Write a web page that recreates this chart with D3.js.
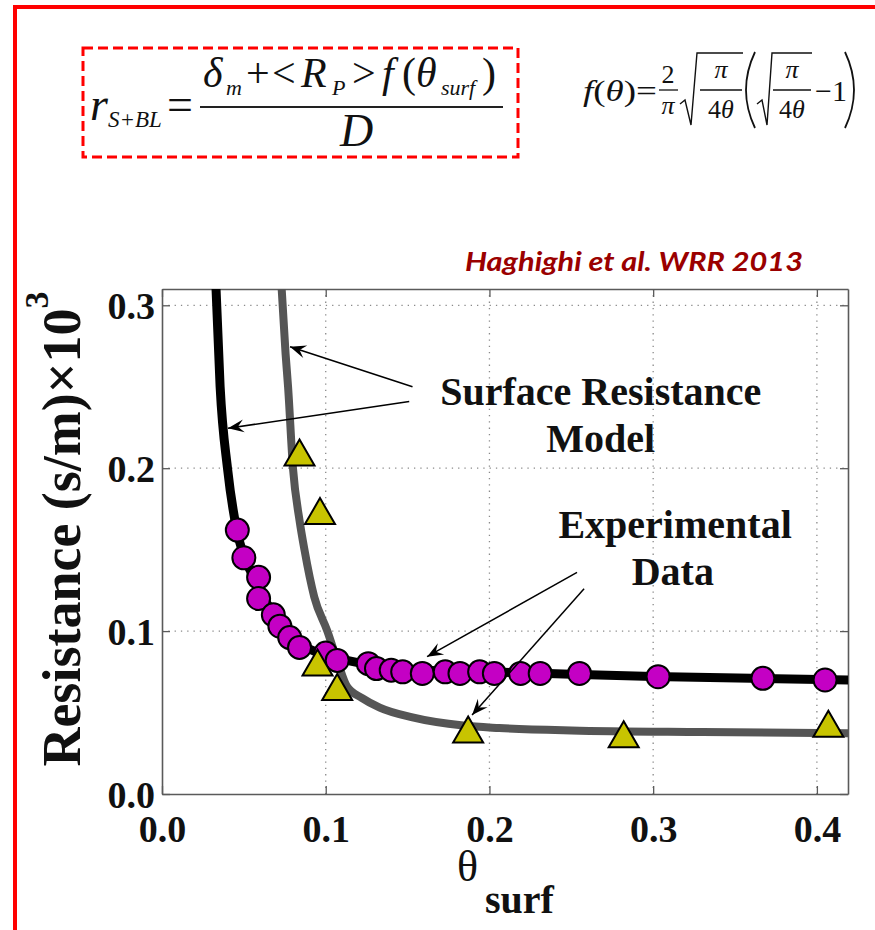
<!DOCTYPE html>
<html>
<head>
<meta charset="utf-8">
<script src="https://cdn.jsdelivr.net/npm/d3@7"></script>
<style>
  body { margin: 0; background: #fff; }
  svg { display: block; }
</style>
</head>
<body>
<div id="chart"></div>
<script>
// axis ticks
var thetaTicks = [0, 0.1, 0.2, 0.3, 0.4];
var resTicks = [0, 0.1, 0.2, 0.3];

// experimental data, circles (magenta)
var circTheta = [0.046, 0.050, 0.059, 0.059, 0.068, 0.072, 0.078, 0.084, 0.100, 0.107,
                 0.126, 0.131, 0.140, 0.147, 0.159, 0.173, 0.182, 0.194, 0.203, 0.219,
                 0.231, 0.255, 0.303, 0.367, 0.405];
var circRes   = [0.162, 0.145, 0.133, 0.120, 0.110, 0.103, 0.096, 0.090, 0.0865, 0.082,
                 0.080, 0.077, 0.076, 0.075, 0.074, 0.075, 0.074, 0.075, 0.074, 0.074,
                 0.074, 0.074, 0.072, 0.071, 0.070];

// experimental data, triangles (yellow)
var triTheta = [0.084, 0.0965, 0.095, 0.107, 0.187, 0.282, 0.407];
var triRes   = [0.207, 0.171, 0.078, 0.063, 0.037, 0.034, 0.0405];

// model curves
var blackTheta = [0.0328, 0.0355, 0.040, 0.0455, 0.050, 0.055, 0.060, 0.066, 0.072, 0.080,
                  0.090, 0.100, 0.113, 0.135, 0.160, 0.200, 0.250, 0.300, 0.360, 0.420];
var blackRes   = [0.315, 0.250, 0.200, 0.163, 0.146, 0.135, 0.124, 0.114, 0.104, 0.095,
                  0.089, 0.085, 0.082, 0.078, 0.076, 0.075, 0.0735, 0.0722, 0.071, 0.070];
var grayTheta  = [0.0728, 0.0755, 0.077, 0.080, 0.084, 0.087, 0.093, 0.101, 0.107, 0.113,
                  0.122, 0.133, 0.153, 0.184, 0.206, 0.250, 0.330, 0.420];
var grayRes    = [0.315, 0.270, 0.250, 0.200, 0.168, 0.150, 0.121, 0.100, 0.082, 0.066,
                  0.059, 0.053, 0.047, 0.042, 0.0405, 0.039, 0.038, 0.0373];

// annotations (data coordinates)
var noteText  = ["Surface Resistance", "Model", "Experimental", "Data"];
var noteTheta = [0.268, 0.268, 0.3134, 0.312];
var noteRes   = [0.2387, 0.2098, 0.157, 0.128];
var arrowFrom = [[0.153, 0.250], [0.151, 0.241], [0.2535, 0.136], [0.2578, 0.126]];
var arrowTo   = [[0.0782, 0.2745], [0.0403, 0.2245], [0.1619, 0.0843], [0.1894, 0.0485]];

var W = 875, H = 930;
var m = {l: 162, r: 848, t: 289, b: 794};
var serif = "'Liberation Serif', 'Times New Roman', serif";

var svg = d3.select("#chart").append("svg")
    .attr("width", W)
    .attr("height", H);

var defs = svg.append("defs");
defs.append("clipPath").attr("id", "plotclip")
  .append("rect")
    .attr("x", m.l).attr("y", m.t)
    .attr("width", m.r - m.l).attr("height", m.b - m.t);

defs.append("marker")
    .attr("id", "ah")
    .attr("viewBox", "-18 -8 20 16")
    .attr("refX", 0).attr("refY", 0)
    .attr("markerWidth", 20).attr("markerHeight", 16)
    .attr("markerUnits", "userSpaceOnUse")
    .attr("orient", "auto")
  .append("path")
    .attr("d", "M0,0 L-16,-6.5 L-10,0 L-16,6.5 Z")
    .attr("fill", "#000");

// red slide frame
svg.append("path")
    .attr("d", "M15,930 L15,7 L875,7")
    .attr("fill", "none")
    .attr("stroke", "#ff0000")
    .attr("stroke-width", 4);

// ---------- equations ----------
svg.append("rect")
    .attr("x", 83).attr("y", 48)
    .attr("width", 435).attr("height", 109)
    .attr("fill", "none")
    .attr("stroke", "#ff0000")
    .attr("stroke-width", 3)
    .attr("stroke-dasharray", "10,5");

var eq = svg.append("g")
    .attr("font-family", serif)
    .attr("fill", "#111");

var lhs = eq.append("text").attr("x", 90).attr("y", 120).attr("font-size", 46);
lhs.append("tspan").attr("font-style", "italic").text("r");
lhs.append("tspan").attr("font-style", "italic").attr("font-size", 23).attr("dy", 7).text("S+BL");
eq.append("text").attr("x", 167).attr("y", 120).attr("font-size", 46).text("=");

// numerator pieces: [text, x, italic, sub]
var numParts = [
  ["δ", 203, true, false], ["m", 226, true, true], ["+", 246, false, false],
  ["<", 272, false, false], ["R", 301, true, false], ["P", 332, true, true],
  [">", 352, false, false], ["f", 382, true, false], ["(", 402, false, false],
  ["θ", 416, true, false], ["surf", 441, true, true], [")", 482, false, false]
];
eq.selectAll(".num").data(numParts).enter().append("text")
    .attr("class", "num")
    .attr("x", function(d) { return d[1]; })
    .attr("y", function(d) { return d[3] ? 95 : 87; })
    .attr("font-size", function(d) { return d[3] ? 22 : 42; })
    .attr("font-style", function(d) { return d[2] ? "italic" : "normal"; })
    .text(function(d) { return d[0]; });

eq.append("line").attr("x1", 200).attr("x2", 503).attr("y1", 107).attr("y2", 107)
    .attr("stroke", "#222").attr("stroke-width", 1.8);
eq.append("text").attr("x", 340).attr("y", 146).attr("font-size", 46)
    .attr("font-style", "italic").text("D");

// f(theta) definition
var fq = svg.append("g")
    .attr("font-family", serif)
    .attr("fill", "#111");
var ft = fq.append("text").attr("x", 583).attr("y", 101).attr("font-size", 30)
    .attr("textLength", 74).attr("lengthAdjust", "spacingAndGlyphs");
ft.append("tspan").attr("font-style", "italic").text("f");
ft.append("tspan").text("(");
ft.append("tspan").attr("font-style", "italic").text("θ");
ft.append("tspan").text(")=");

function frac(cx, top, bot, x1, x2) {
  var t = fq.append("text").attr("x", cx).attr("y", 83).attr("font-size", 26)
      .attr("text-anchor", "middle");
  top(t);
  fq.append("line").attr("x1", x1).attr("x2", x2).attr("y1", 90).attr("y2", 90)
      .attr("stroke", "#111").attr("stroke-width", 1.3);
  var b = fq.append("text").attr("x", cx).attr("y", 114).attr("font-size", 26)
      .attr("text-anchor", "middle");
  bot(b);
}
frac(668, function(t) { t.text("2"); }, function(b) { b.attr("font-style", "italic").text("π"); }, 659, 678);
function piOver4(cx, x1, x2) {
  frac(cx, function(t) { t.attr("y", 78).attr("font-style", "italic").text("π"); },
    function(b) {
      b.attr("y", 118);
      b.append("tspan").text("4");
      b.append("tspan").attr("font-style", "italic").text("θ");
    }, x1, x2);
}
piOver4(721, 700, 742);
piOver4(792, 773, 811);
fq.append("path").attr("d", "M680,104 L685,100 L691,125 L697,53 L743,53")
    .attr("fill", "none").attr("stroke", "#111").attr("stroke-width", 1.4);
fq.append("path").attr("d", "M757,104 L762,100 L767,125 L772,53 L812,53")
    .attr("fill", "none").attr("stroke", "#111").attr("stroke-width", 1.4);
fq.append("path").attr("d", "M755,52 Q737,90 755,128")
    .attr("fill", "none").attr("stroke", "#111").attr("stroke-width", 1.8);
fq.append("path").attr("d", "M845,52 Q863,90 845,128")
    .attr("fill", "none").attr("stroke", "#111").attr("stroke-width", 1.8);
fq.append("text").attr("x", 815).attr("y", 101).attr("font-size", 30).text("−1");

// citation
svg.append("text")
    .attr("x", 465).attr("y", 271)
    .attr("font-family", "Lato, 'Open Sans', sans-serif")
    .attr("font-size", 27)
    .attr("font-weight", "bold")
    .attr("font-style", "italic")
    .attr("fill", "#9a0000")
    .attr("textLength", 338)
    .attr("lengthAdjust", "spacingAndGlyphs")
    .text("Haghighi et al. WRR 2013");

// ---------- plot ----------
var x = d3.scaleLinear().domain([0, 0.419]).range([m.l, m.r]);
var y = d3.scaleLinear().domain([0, 0.31]).range([m.b, m.t]);

var grid = svg.append("g")
    .attr("stroke", "#8a8a8a")
    .attr("stroke-width", 1.3)
    .attr("stroke-dasharray", "1.3,5");
grid.selectAll(".vg").data(thetaTicks.slice(1)).enter().append("line")
    .attr("x1", function(d) { return x(d); }).attr("x2", function(d) { return x(d); })
    .attr("y1", m.t).attr("y2", m.b);
grid.selectAll(".hg").data(resTicks.slice(1)).enter().append("line")
    .attr("x1", m.l).attr("x2", m.r)
    .attr("y1", function(d) { return y(d); }).attr("y2", function(d) { return y(d); });

var fmt = d3.format(".1f");
function styleAxis(g) {
  g.select(".domain").attr("stroke", "#5a5a5a").attr("stroke-width", 1.6);
  g.selectAll(".tick line").attr("stroke", "#5a5a5a").attr("stroke-width", 1.3);
  g.selectAll("text")
    .attr("font-family", serif)
    .attr("font-weight", "bold")
    .attr("font-size", 38)
    .attr("fill", "#111");
}
svg.append("g").attr("transform", "translate(0," + m.b + ")")
    .call(d3.axisBottom(x).tickValues(thetaTicks).tickFormat(fmt).tickSizeInner(-8).tickSizeOuter(0).tickPadding(21))
    .call(styleAxis);
svg.append("g").attr("transform", "translate(0," + m.t + ")")
    .call(d3.axisTop(x).tickValues(thetaTicks).tickFormat("").tickSizeInner(-8).tickSizeOuter(0))
    .call(styleAxis);
svg.append("g").attr("transform", "translate(" + m.l + ",0)")
    .call(d3.axisLeft(y).tickValues(resTicks).tickFormat(fmt).tickSizeInner(-8).tickSizeOuter(0).tickPadding(7))
    .call(styleAxis)
    .selectAll("text").attr("dy", "0.36em");
svg.append("g").attr("transform", "translate(" + m.r + ",0)")
    .call(d3.axisRight(y).tickValues(resTicks).tickFormat("").tickSizeInner(-8).tickSizeOuter(0))
    .call(styleAxis);

// model curves
var line = d3.line()
    .x(function(d) { return x(d[0]); })
    .y(function(d) { return y(d[1]); })
    .curve(d3.curveMonotoneX);
var curves = svg.append("g").attr("clip-path", "url(#plotclip)");
curves.append("path")
    .datum(d3.zip(blackTheta, blackRes))
    .attr("d", line)
    .attr("fill", "none")
    .attr("stroke", "#000")
    .attr("stroke-width", 9);
curves.append("path")
    .datum(d3.zip(grayTheta, grayRes))
    .attr("d", line)
    .attr("fill", "none")
    .attr("stroke", "#555")
    .attr("stroke-width", 8);

// markers
svg.append("g").selectAll("circle")
    .data(d3.zip(circTheta, circRes))
  .enter().append("circle")
    .attr("cx", function(d) { return x(d[0]); })
    .attr("cy", function(d) { return y(d[1]); })
    .attr("r", 11.5)
    .attr("fill", "#c400c4")
    .attr("stroke", "#000")
    .attr("stroke-width", 2);

var tri = d3.symbol().type(d3.symbolTriangle).size(390);
svg.append("g").selectAll("path")
    .data(d3.zip(triTheta, triRes))
  .enter().append("path")
    .attr("d", tri)
    .attr("transform", function(d) { return "translate(" + x(d[0]) + "," + y(d[1]) + ")"; })
    .attr("fill", "#c8c400")
    .attr("stroke", "#000")
    .attr("stroke-width", 2);

// annotations
svg.append("g").selectAll("line")
    .data(d3.zip(arrowFrom, arrowTo))
  .enter().append("line")
    .attr("x1", function(d) { return x(d[0][0]); })
    .attr("y1", function(d) { return y(d[0][1]); })
    .attr("x2", function(d) { return x(d[1][0]); })
    .attr("y2", function(d) { return y(d[1][1]); })
    .attr("stroke", "#000")
    .attr("stroke-width", 1.5)
    .attr("marker-end", "url(#ah)");

svg.append("g").selectAll("text")
    .data(d3.zip(noteText, noteTheta, noteRes))
  .enter().append("text")
    .attr("x", function(d) { return x(d[1]); })
    .attr("y", function(d) { return y(d[2]); })
    .attr("text-anchor", "middle")
    .attr("font-family", serif)
    .attr("font-weight", "bold")
    .attr("font-size", 40)
    .attr("fill", "#111")
    .text(function(d) { return d[0]; });

// axis titles
svg.append("text")
    .attr("x", 457).attr("y", 881)
    .attr("font-family", serif)
    .attr("font-size", 44)
    .attr("fill", "#111")
    .text("θ");
svg.append("text")
    .attr("x", 485).attr("y", 913)
    .attr("font-family", serif)
    .attr("font-size", 40)
    .attr("font-weight", "bold")
    .attr("fill", "#111")
    .text("surf");

var yt = svg.append("text")
    .attr("transform", "translate(80,529) rotate(-90)")
    .attr("text-anchor", "middle")
    .attr("font-family", serif)
    .attr("font-weight", "bold")
    .attr("fill", "#111");
yt.append("tspan").attr("font-size", 54).text("Resistance (s/m)×10");
yt.append("tspan").attr("font-size", 34).attr("dy", -32).text("3");
</script>
</body>
</html>
